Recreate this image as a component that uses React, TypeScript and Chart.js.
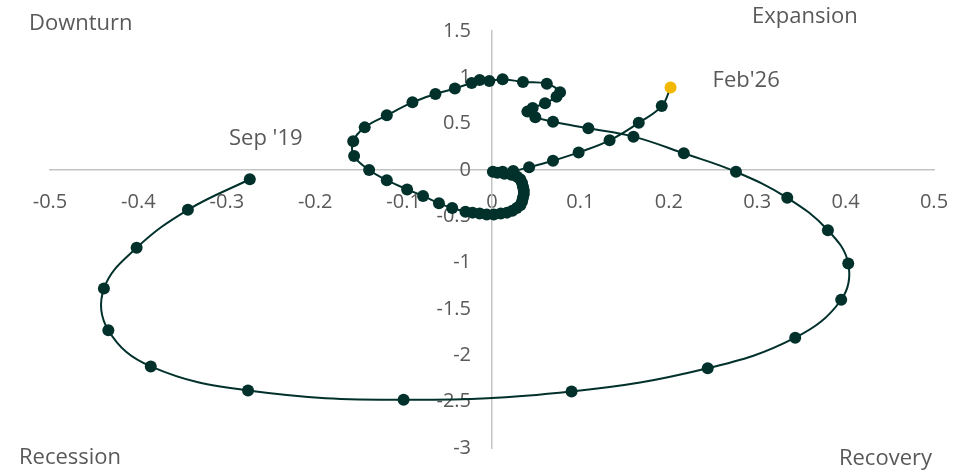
import React, { useEffect, useRef } from "react";
import { Chart, registerables } from "chart.js";

Chart.register(...registerables);

// Horizontal position (growth level deviation) and vertical position (momentum), Sep '19 -> Feb '26
const cycleX = [
  -0.274, -0.344, -0.402, -0.439, -0.434, -0.386, -0.276, -0.1, 0.09, 0.244,
  0.343, 0.395, 0.403, 0.38, 0.334, 0.276, 0.217, 0.16, 0.109, 0.069,
  0.049, 0.04, 0.046, 0.06, 0.073, 0.077, 0.062, 0.035, 0.012, -0.003,
  -0.014, -0.023, -0.042, -0.064, -0.09, -0.119, -0.144, -0.157, -0.156, -0.139,
  -0.119, -0.096, -0.078, -0.06, -0.045, -0.03, -0.022, -0.014, -0.006, 0.002,
  0.01, 0.017, 0.023, 0.028, 0.032, 0.034, 0.035, 0.036, 0.036, 0.035,
  0.034, 0.032, 0.028, 0.022, 0.014, 0.006, 0.001, 0.012, 0.024, 0.042,
  0.069, 0.098, 0.133, 0.166, 0.192, 0.202,
];
const cycleY = [
  -0.1, -0.43, -0.84, -1.28, -1.73, -2.12, -2.38, -2.48, -2.39, -2.14,
  -1.81, -1.4, -1.01, -0.65, -0.3, -0.02, 0.18, 0.36, 0.45, 0.52,
  0.57, 0.63, 0.67, 0.72, 0.79, 0.84, 0.93, 0.95, 0.98, 0.96,
  0.97, 0.94, 0.88, 0.82, 0.73, 0.59, 0.46, 0.31, 0.15, 0.0,
  -0.11, -0.21, -0.28, -0.36, -0.41, -0.45, -0.46, -0.47, -0.48, -0.48,
  -0.47, -0.46, -0.44, -0.41, -0.38, -0.34, -0.3, -0.26, -0.22, -0.18,
  -0.14, -0.1, -0.07, -0.05, -0.04, -0.03, -0.02, -0.02, -0.01, 0.03,
  0.1, 0.19, 0.32, 0.51, 0.69, 0.89,
];

const quadrantLabels = ["Downturn", "Expansion", "Recession", "Recovery"];
const startLabel = "Sep '19";
const endLabel = "Feb'26";

const W = 969;
const H = 475;
const GREEN = "#02312c";
const YELLOW = "#f2b800";
const TEXT = "#595959";
const FONT = "'Open Sans', 'Noto Sans', sans-serif";

const fmt = (v: number) => String(Math.round(v * 10) / 10);

const labelPlugin = {
  id: "cycleLabels",
  afterDraw(chart: any) {
    const ctx = chart.ctx;
    const xs = chart.scales.x;
    const ys = chart.scales.y;
    ctx.save();
    ctx.fillStyle = TEXT;
    ctx.font = `22px ${FONT}`;
    ctx.textBaseline = "middle";
    ctx.textAlign = "left";
    ctx.fillText(quadrantLabels[0], 29, 24);
    ctx.fillText(quadrantLabels[1], 752, 17);
    ctx.fillText(quadrantLabels[2], 19, 458);
    ctx.textAlign = "right";
    ctx.fillText(quadrantLabels[3], 932, 459);
    const n = cycleX.length - 1;
    const sx = xs.getPixelForValue(cycleX[0]);
    const sy = ys.getPixelForValue(cycleY[0]);
    ctx.textAlign = "center";
    ctx.fillText(startLabel, sx + 16, sy - 41);
    const ex = xs.getPixelForValue(cycleX[n]);
    const ey = ys.getPixelForValue(cycleY[n]);
    ctx.textAlign = "left";
    ctx.fillText(endLabel, ex + 42, ey - 7);
    ctx.restore();
  },
};

const zeroPad = (s: any) => {
  s.paddingTop = 0;
  s.paddingBottom = 0;
  s.paddingLeft = 0;
  s.paddingRight = 0;
};

export default function App() {
  const ref = useRef<HTMLCanvasElement | null>(null);
  useEffect(() => {
    if (!ref.current) return;
    const last = cycleX.length - 1;
    const points = cycleX.map((x, i) => ({ x, y: cycleY[i] }));
    const chart = new Chart(ref.current, {
      type: "scatter",
      data: {
        datasets: [
          {
            data: points,
            showLine: true,
            borderColor: GREEN,
            borderWidth: 2,
            tension: 0.4,
            pointRadius: 6,
            pointBorderWidth: 0,
            pointBackgroundColor: points.map((_, i) => (i === last ? YELLOW : GREEN)),
            pointBorderColor: points.map((_, i) => (i === last ? YELLOW : GREEN)),
            clip: false as any,
          },
        ],
      },
      options: {
        responsive: false,
        animation: false,
        layout: { padding: { left: 50, right: 35, top: 31, bottom: 27 }, autoPadding: false } as any,
        plugins: { legend: { display: false }, tooltip: { enabled: false } },
        scales: {
          x: {
            type: "linear",
            min: -0.5,
            max: 0.5,
            position: { y: 0 } as any,
            grid: { display: false, drawTicks: false },
            border: { display: true, color: "#c3c3c3", width: 1.5 },
            ticks: {
              stepSize: 0.1,
              padding: 20,
              color: TEXT,
              font: { family: FONT, size: 20 },
              maxRotation: 0,
              autoSkip: false,
              callback: (v: any) => fmt(Number(v)),
            },
            afterFit: (s: any) => {
              s.height = 0;
              zeroPad(s);
            },
          },
          y: {
            type: "linear",
            min: -3,
            max: 1.5,
            position: "center",
            grid: { display: false, drawTicks: false },
            border: { display: true, color: "#c3c3c3", width: 1.5 },
            ticks: {
              stepSize: 0.5,
              padding: 21,
              color: TEXT,
              font: { family: FONT, size: 20 },
              autoSkip: false,
              callback: (v: any) => fmt(Number(v)),
            },
            afterFit: (s: any) => {
              s.width = 0;
              zeroPad(s);
            },
          },
        },
      },
      plugins: [labelPlugin],
    });
    return () => chart.destroy();
  }, []);
  return (
    <div style={{ position: "absolute", left: 0, top: 0, width: W, height: H }}>
      <canvas ref={ref} width={W} height={H} style={{ display: "block" }} />
    </div>
  );
}
